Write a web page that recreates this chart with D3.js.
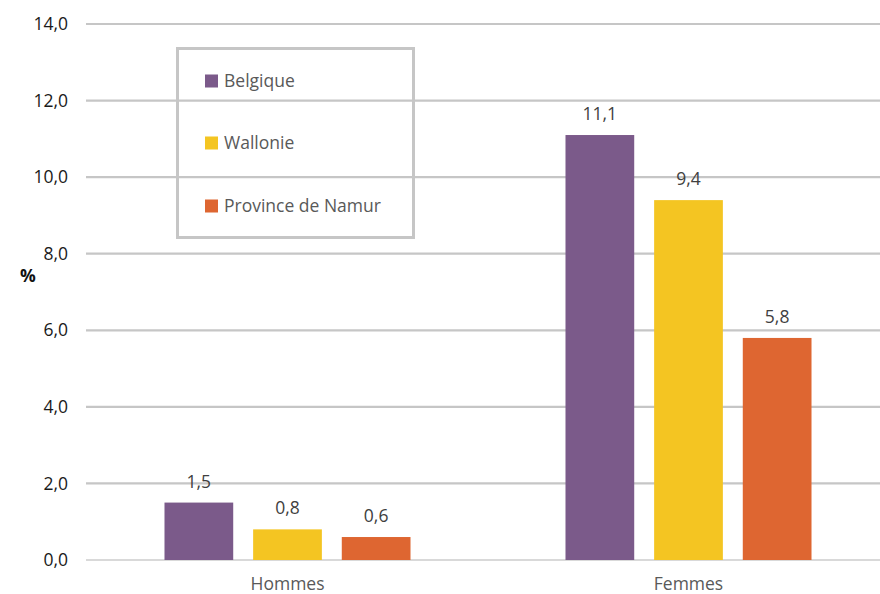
<!DOCTYPE html>
<html>
<head>
<meta charset="utf-8">
<script src="https://cdn.jsdelivr.net/npm/d3@7"></script>
<style>
  html, body { margin: 0; padding: 0; background: #fff; }
  svg text { font-family: "Open Sans", "Noto Sans", sans-serif; }
</style>
</head>
<body>
<svg id="chart" width="880" height="594"></svg>
<script>
// Categories, series and values
const categories = ["Hommes", "Femmes"];
const seriesNames = ["Belgique", "Wallonie", "Province de Namur"];
const belgique = [1.5, 11.1];
const wallonie = [0.8, 9.4];
const namur = [0.6, 5.8];
const yTicks = [0, 2, 4, 6, 8, 10, 12, 14];
const colors = ["#7b5a8a", "#f4c522", "#de6631"];

const seriesValues = [belgique, wallonie, namur];
const fmt = v => d3.format(".1f")(v).replace(".", ",");
const FS = 17.5;

const svg = d3.select("#chart");
const margin = { left: 87, right: -9 };
const W = 880;

const y = d3.scaleLinear().domain([0, 14]).range([560, 24]);
const x0 = d3.scaleBand().domain(categories)
  .range([margin.left, W - margin.right])
  .paddingInner(0.3865).paddingOuter(0.3865 / 2);
const x1 = d3.scaleBand().domain(seriesNames)
  .range([0, x0.bandwidth()])
  .paddingInner(0.2247).paddingOuter(0);

// Horizontal gridlines
svg.append("g").selectAll("line").data(yTicks).join("line")
  .attr("x1", 86).attr("x2", W)
  .attr("y1", d => y(d)).attr("y2", d => y(d))
  .attr("stroke", d => d === 0 ? "#d9d9d9" : "#c6c6c6")
  .attr("stroke-width", 2.2);

// Y axis tick labels
const yAxis = d3.axisLeft(y).tickValues(yTicks).tickFormat(fmt).tickSize(0).tickPadding(0);
const gy = svg.append("g").attr("transform", "translate(68,0)").call(yAxis);
gy.select(".domain").remove();
gy.selectAll("text")
  .attr("font-size", FS).attr("fill", "#1a1a1a")
  .style("font-family", '"Open Sans", "Noto Sans", sans-serif');

// Y axis title
svg.append("text").attr("x", 28).attr("y", 282)
  .attr("text-anchor", "middle").attr("font-size", FS).attr("font-weight", "bold")
  .attr("fill", "#111").text("%");

// Bars
const groups = svg.append("g").selectAll("g").data(categories).join("g")
  .attr("transform", d => `translate(${x0(d)},0)`);

const cells = (c, ci) => seriesNames.map((s, si) => ({ s, si, v: seriesValues[si][ci] }));

groups.selectAll("rect").data(cells).join("rect")
  .attr("x", d => x1(d.s))
  .attr("width", x1.bandwidth())
  .attr("y", d => y(d.v))
  .attr("height", d => y(0) - y(d.v))
  .attr("fill", d => colors[d.si]);

// Value labels
groups.selectAll("text.val").data(cells).join("text")
  .attr("class", "val")
  .attr("x", d => x1(d.s) + x1.bandwidth() / 2)
  .attr("y", d => y(d.v) - 15)
  .attr("text-anchor", "middle")
  .attr("font-size", FS).attr("fill", "#404040")
  .text(d => fmt(d.v));

// Category labels
const xAxis = d3.axisBottom(x0).tickSize(0).tickPadding(0);
const gx = svg.append("g").attr("transform", "translate(0,560)").call(xAxis);
gx.select(".domain").remove();
gx.selectAll("text")
  .attr("dy", 0).attr("y", 30)
  .attr("font-size", FS).attr("fill", "#595959")
  .style("font-family", '"Open Sans", "Noto Sans", sans-serif');

// Legend
const legend = svg.append("g");
legend.append("rect")
  .attr("x", 177.5).attr("y", 48.5).attr("width", 236).attr("height", 189)
  .attr("fill", "none").attr("stroke", "#c6c6c6").attr("stroke-width", 3);
const rowY = [81, 143, 206];
const items = legend.selectAll("g.item").data(seriesNames).join("g")
  .attr("class", "item")
  .attr("transform", (d, i) => `translate(205,${rowY[i]})`);
items.append("rect").attr("x", 0).attr("y", -6.5).attr("width", 13).attr("height", 13)
  .attr("fill", (d, i) => colors[i]);
items.append("text").attr("x", 19).attr("y", 0).attr("dy", "0.35em")
  .attr("font-size", FS).attr("fill", "#595959").text(d => d);
</script>
</body>
</html>
